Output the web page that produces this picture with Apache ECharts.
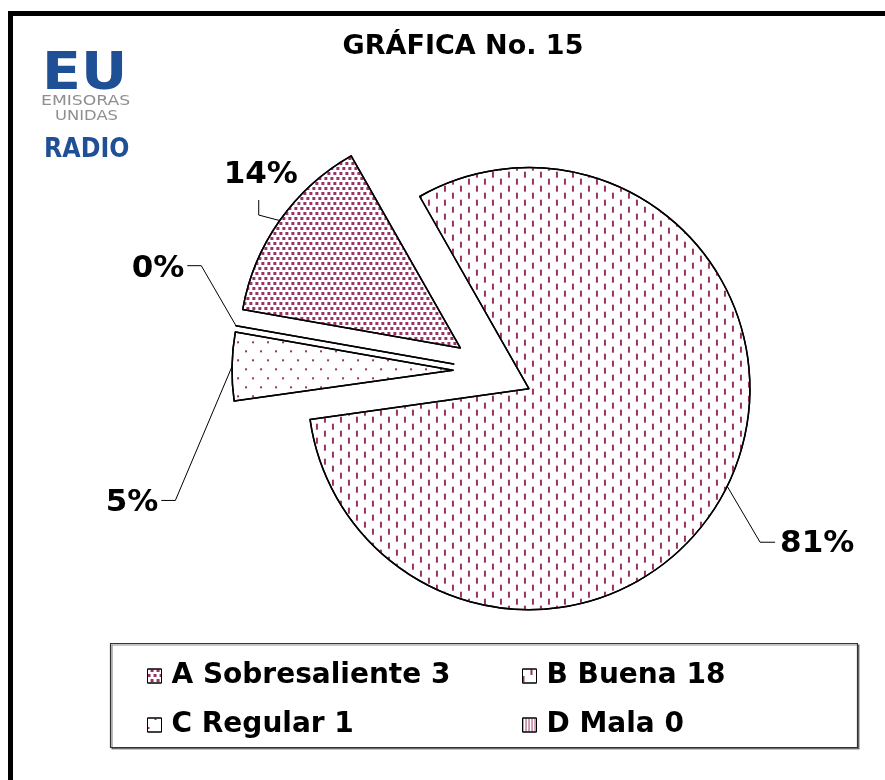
<!DOCTYPE html>
<html>
<head>
<meta charset="utf-8">
<script src="https://cdn.jsdelivr.net/npm/echarts@6/dist/echarts.min.js"></script>
<style>
  html, body { margin: 0; padding: 0; background: #fff; }
  #chart { width: 885px; height: 780px; }
</style>
</head>
<body>
<div id="chart"></div>
<script>
// Survey answers: category, number of answers, share shown on the pie (%)
const categories = ['A Sobresaliente', 'B Buena', 'C Regular', 'D Mala'];
const counts = [3, 18, 1, 0];
const percents = [14, 81, 5, 0];

const MAROON = '#993366';
const FONT = '"DejaVu Sans", "Liberation Sans", sans-serif';

const PIE_CENTER = [493, 371];
const PIE_RADIUS = 221;
const PIE_START = 170;
const EXPLODE = 40;

// Hatch patterns per category
const decals = [
  { symbol: 'rect', symbolSize: 1, color: MAROON, dashArrayX: [[3, 3], [0, 3, 3, 0]], dashArrayY: [3, 2] },
  { symbol: 'rect', symbolSize: 1, color: MAROON, dashArrayX: [[2, 14], [0, 8, 2, 6]], dashArrayY: [6, 1] },
  { symbol: 'rect', symbolSize: 1, color: MAROON, dashArrayX: [[2, 13], [0, 7, 2, 6]], dashArrayY: [2, 7] },
  { symbol: 'rect', symbolSize: 1, color: MAROON, dashArrayX: [1, 2], dashArrayY: [8, 0] }
];

// Where each percentage label sits, relative to where its leader leaves the slice
const labelShift = [[-19, -46], [90, 58], [-100, 137], [-78, -57]];
const leaderFromBelow = [true, false, false, false];

const chart = echarts.init(document.getElementById('chart'), null, { renderer: 'canvas' });

const legendText = {
  fontFamily: FONT, fontWeight: 'bold', fontSize: 28, color: '#000',
  lineHeight: 32, padding: [0, 0, 0, 5]
};
const legendFormatter = name => name + ' ' + counts[categories.indexOf(name)];

const legendBase = {
  orient: 'vertical', top: 655, itemWidth: 14, itemHeight: 14, itemGap: 17,
  icon: 'rect', selectedMode: false, formatter: legendFormatter, textStyle: legendText,
  itemStyle: { borderColor: '#000', borderWidth: 1 }
};

// Leader line + label placement for the percentage labels
function placeLabel(p) {
  const i = p.dataIndex;
  const q = p.labelLinePoints[0];
  const vx = q[0] - PIE_CENTER[0], vy = q[1] - PIE_CENTER[1];
  const len = Math.sqrt(vx * vx + vy * vy) || 1;
  // leader leaves the exploded slice edge
  const p0 = [q[0] + vx / len * EXPLODE, q[1] + vy / len * EXPLODE];
  const w = p.labelRect.width, h = p.labelRect.height;
  const x = p0[0] + labelShift[i][0];
  const y = p0[1] + labelShift[i][1];
  let end, knee;
  if (leaderFromBelow[i]) {
    end = [x - 2, y + h / 2 + 10];
    knee = [end[0], end[1] + 15];
  } else if (labelShift[i][0] > 0) {
    end = [x - w / 2 - 5, y - 2];
    knee = [end[0] - 15, end[1]];
  } else {
    end = [x + w / 2 + 3, y - 3];
    knee = [end[0] + 14, end[1]];
  }
  return { x: x, y: y, align: 'center', verticalAlign: 'middle', labelLinePoints: [p0, knee, end] };
}

const option = {
  animation: false,
  backgroundColor: '#fff',
  title: {
    text: 'GRÁFICA No. 15', left: 458, top: 28, textAlign: 'center',
    textStyle: { fontFamily: FONT, fontWeight: 'bold', fontSize: 27, color: '#000' }
  },
  legend: [
    Object.assign({}, legendBase, { left: 142, data: [categories[0], categories[2]] }),
    Object.assign({}, legendBase, { left: 517, data: [categories[1], categories[3]] })
  ],
  graphic: [
    { type: 'rect', silent: true, z: -10,
      shape: { x: 10.5, y: 13.5, width: 900, height: 800 },
      style: { fill: 'none', stroke: '#000', lineWidth: 5 } },
    { type: 'rect', silent: true, z: -5,
      shape: { x: 110.5, y: 643.5, width: 747, height: 104 },
      style: { fill: '#fff', stroke: '#333', lineWidth: 1.2,
               shadowColor: 'rgba(0,0,0,0.45)', shadowOffsetX: 1.5, shadowOffsetY: 1.5, shadowBlur: 0 } },
    // station logo
    { type: 'text', silent: true, x: 42, y: 49, scaleX: 1.14, scaleY: 1.04,
      style: { text: 'EU', font: 'bold 50px "DejaVu Sans"', fill: '#1f4f95', textVerticalAlign: 'top' } },
    { type: 'text', silent: true, x: 41, y: 94, scaleX: 1.23,
      style: { text: 'EMISORAS', font: '14px "DejaVu Sans"', fill: '#8f8f8f', textVerticalAlign: 'top' } },
    { type: 'text', silent: true, x: 55, y: 109, scaleX: 1.17,
      style: { text: 'UNIDAS', font: '14px "DejaVu Sans"', fill: '#8f8f8f', textVerticalAlign: 'top' } },
    { type: 'text', silent: true, x: 44, y: 136, scaleX: 0.88,
      style: { text: 'RADIO', font: 'bold 27px "DejaVu Sans"', fill: '#1f4f95', textVerticalAlign: 'top' } }
  ],
  series: [
    {
      // exploded, hatched slices
      type: 'pie',
      center: PIE_CENTER,
      radius: PIE_RADIUS,
      startAngle: PIE_START,
      clockwise: true,
      selectedMode: 'multiple',
      selectedOffset: EXPLODE,
      emphasis: { disabled: true },
      itemStyle: { color: '#fff', borderColor: '#000', borderWidth: 1.5 },
      label: { show: false },
      labelLine: { show: false },
      data: categories.map((name, i) => ({
        name: name,
        value: percents[i],
        selected: true,
        itemStyle: { decal: decals[i] }
      }))
    },
    {
      // percentage labels with leader lines
      type: 'pie',
      center: PIE_CENTER,
      radius: PIE_RADIUS,
      startAngle: PIE_START,
      clockwise: true,
      silent: true,
      avoidLabelOverlap: false,
      emphasis: { disabled: true },
      itemStyle: { color: 'rgba(0,0,0,0)', borderWidth: 0 },
      label: {
        show: true, position: 'outside', formatter: '{c}%',
        fontFamily: FONT, fontWeight: 'bold', fontSize: 31, color: '#000'
      },
      labelLine: { show: true, length: 15, length2: 15, lineStyle: { color: '#000', width: 1 } },
      labelLayout: placeLabel,
      data: categories.map((name, i) => ({ name: name, value: percents[i] }))
    }
  ]
};

chart.setOption(option);
</script>
</body>
</html>
